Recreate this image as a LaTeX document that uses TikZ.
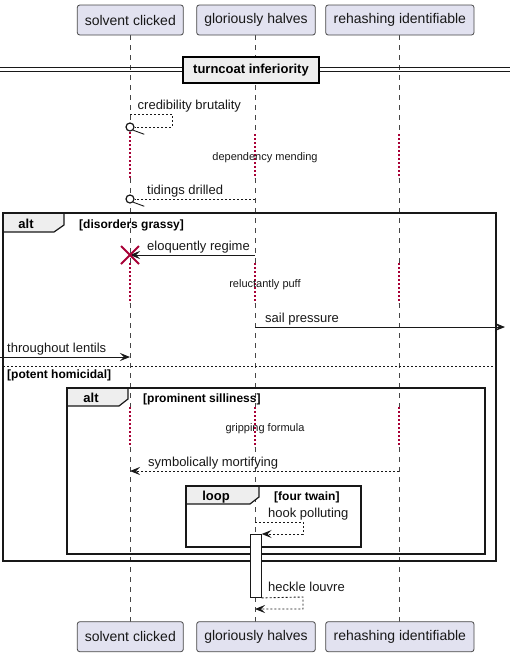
\documentclass[tikz,border=0pt]{standalone}
\usepackage{fontspec}
\setmainfont{Liberation Sans}
\usetikzlibrary{arrows.meta,calc}

\definecolor{partfill}{HTML}{E2E2F0}
\definecolor{ink}{HTML}{181818}
\definecolor{delayred}{HTML}{A80036}
\definecolor{tabfill}{HTML}{EEEEEE}

\tikzset{
  participant/.style={draw=ink!80, line width=0.8pt, fill=partfill, rounded corners=2.5pt,
    minimum height=30pt, inner xsep=0pt, font=\fontsize{14}{16}\selectfont, text=ink},
  lifeline/.style={draw=ink!80, line width=0.7pt, dash pattern=on 5pt off 5pt},
  delayline/.style={draw=delayred, line width=1.1pt, dash pattern=on 2pt off 2pt},
  msg/.style={draw=ink, line width=0.9pt},
  rmsg/.style={msg, dash pattern=on 2pt off 2pt},
  head/.style={-{Stealth[length=10pt,width=8pt,inset=4pt]}},
  msglabel/.style={anchor=base west, inner sep=0pt, font=\fontsize{13}{15}\selectfont, text=ink},
  delaylabel/.style={anchor=center, inner sep=0pt, font=\fontsize{11}{13}\selectfont, text=ink},
  frameline/.style={draw=ink, line width=1.5pt},
  tabshape/.style={fill=tabfill, draw=ink, line width=1.2pt},
  tablabel/.style={anchor=base, inner sep=0pt, font=\bfseries\fontsize{13}{15}\selectfont, text=black},
  guardlabel/.style={anchor=base west, inner sep=0pt, font=\bfseries\fontsize{12}{14}\selectfont, text=black},
  xmark/.style={draw=delayred, line width=2pt},
}

\begin{document}
\begin{tikzpicture}[x=1pt, y=-1pt]
\useasboundingbox (0,0) rectangle (510,657);

% lifeline columns
\def\xa{130}
\def\xb{255}
\def\xc{399}

% lifelines: dashed, with dotted red delay stretches
\foreach \lx/\dstart in {\xa/132, \xb/134, \xc/134} {
  \draw[lifeline] (\lx,35) -- (\lx,\dstart);
  \draw[delayline] (\lx,\dstart) -- (\lx,178);
  \draw[lifeline] (\lx,178) -- (\lx,263);
  \draw[delayline] (\lx,263) -- (\lx,303);
  \draw[lifeline] (\lx,303) -- (\lx,407);
  \draw[delayline] (\lx,407) -- (\lx,447);
  \draw[lifeline] (\lx,447) -- (\lx,622);
}

% participants, top and bottom
\node[participant, minimum width=106pt] (sc1) at (130.3,20) {solvent clicked};
\node[participant, minimum width=118.6pt] (gh1) at (256,20) {gloriously halves};
\node[participant, minimum width=148.3pt] (ri1) at (399.85,20) {rehashing identifiable};
\node[participant, minimum width=106pt] (sc2) at (130.3,636.7) {solvent clicked};
\node[participant, minimum width=118.6pt] (gh2) at (256,636.7) {gloriously halves};
\node[participant, minimum width=148.3pt] (ri2) at (399.85,636.7) {rehashing identifiable};

% divider
\coordinate (dl) at (0,69.5);
\coordinate (dr) at (510,69.5);
\draw[ink, line width=0.9pt] ([yshift=-1.8pt]dl) -- ([yshift=-1.8pt]dr);
\draw[ink, line width=0.9pt] ([yshift=1.8pt]dl) -- ([yshift=1.8pt]dr);
\node[draw=black, line width=1.6pt, fill=tabfill, minimum width=136pt, minimum height=26pt,
  inner sep=0pt, font=\bfseries\fontsize{13}{15}\selectfont] (div) at (251,70) {turncoat inferiority};

% credibility brutality (self message, circle end)
\coordinate (cb1) at (\xa,114);
\coordinate (cb2) at (172,114);
\coordinate (cb3) at (172,127);
\node[circle, draw=ink, line width=1.2pt, fill=white, minimum size=8pt, inner sep=0pt] (cbo) at (\xa,127) {};
\draw[rmsg] (cb1) -- (cb2) -- (cb3) -- (cbo.east);
\draw[msg] (cbo.south east) -- ++(11,4);
\node[msglabel] (cbl) at (137.5,109) {credibility brutality};

% delay
\node[delaylabel] (dm) at (265,157.5) {dependency mending};

% tidings drilled
\coordinate (td1) at (\xb,199);
\node[circle, draw=ink, line width=1.2pt, fill=white, minimum size=8pt, inner sep=0pt] (tdo) at (\xa,199) {};
\draw[rmsg] (td1) -- (tdo.east);
\draw[msg] (tdo.south east) -- ++(11,4);
\node[msglabel] (tdl) at (147,194.5) {tidings drilled};

% outer alt frame
\coordinate (oa1) at (3,213);
\coordinate (oa2) at (496,561);
\draw[tabshape] (3,213) -- (64,213) -- (64,225) -- (54,232) -- (3,232) -- cycle;
\draw[frameline] (oa1) rectangle (oa2);
\node[tablabel] (oat) at (26,228.5) {alt};
\node[guardlabel] (oag) at (79,228.5) {[disorders grassy]};

% eloquently regime with destroy cross
\coordinate (er1) at (\xb,255);
\coordinate (er2) at (\xa,255);
\draw[msg, head] (er1) -- (er2);
\draw[xmark] ($(er2)+(-9,-9)$) -- ($(er2)+(9,9)$);
\draw[xmark] ($(er2)+(-9,9)$) -- ($(er2)+(9,-9)$);
\node[msglabel] (erl) at (147,250.5) {eloquently regime};

% delay
\node[delaylabel] (rp) at (265,285) {reluctantly puff};

% sail pressure (outgoing)
\coordinate (sp1) at (\xb,327);
\coordinate (sp2) at (505,327);
\draw[msg, head] (sp1) -- (sp2);
\node[msglabel] (spl) at (265,322.5) {sail pressure};

% throughout lentils (incoming)
\coordinate (tl1) at (0,357);
\coordinate (tl2) at (\xa,357);
\draw[msg, head] (tl1) -- (tl2);
\node[msglabel] (tll) at (7,352.5) {throughout lentils};

% else separator
\coordinate (es1) at (3,366);
\coordinate (es2) at (496,366);
\draw[ink, line width=0.9pt, dash pattern=on 2pt off 2pt] (es1) -- (es2);
\node[guardlabel] (esg) at (7,378.5) {[potent homicidal]};

% inner alt frame
\coordinate (ia1) at (67,388);
\coordinate (ia2) at (485,554);
\draw[tabshape] (67,388) -- (128,388) -- (128,399) -- (119,406) -- (67,406) -- cycle;
\draw[frameline] (ia1) rectangle (ia2);
\node[tablabel] (iat) at (91,402.5) {alt};
\node[guardlabel] (iag) at (143,402.5) {[prominent silliness]};

% delay
\node[delaylabel] (gf) at (265,428.5) {gripping formula};

% symbolically mortifying
\coordinate (sm1) at (\xc,471);
\coordinate (sm2) at (\xa,471);
\draw[rmsg, head] (sm1) -- (sm2);
\node[msglabel] (sml) at (148,466.5) {symbolically mortifying};

% loop frame
\coordinate (lp1) at (186,486);
\coordinate (lp2) at (361,547);
\draw[tabshape] (186,486) -- (259,486) -- (259,497) -- (250,504) -- (186,504) -- cycle;
\draw[frameline] (lp1) rectangle (lp2);
\node[tablabel] (lpt) at (216,500.5) {loop};
\node[guardlabel] (lpg) at (274,500.5) {[four twain]};

% activation bar
\node[draw=ink, fill=white, line width=0.9pt, minimum width=10.5pt, minimum height=63pt,
  inner sep=0pt, anchor=north] (act) at (256,534) {};

% hook polluting (self message)
\coordinate (hp1) at (\xb,522);
\coordinate (hp2) at (303,522);
\coordinate (hp3) at (303,534);
\draw[rmsg, head] (hp1) -- (hp2) -- (hp3) -- (act.north east);
\node[msglabel] (hpl) at (268,517.5) {hook polluting};

% heckle louvre (self message from activation)
\coordinate (hl2) at (303,597);
\coordinate (hl3) at (303,609);
\coordinate (hl4) at (\xb,609);
\draw[rmsg, head] (act.south east) -- (hl2) -- (hl3) -- (hl4);
\node[msglabel] (hll) at (268,591.5) {heckle louvre};

\end{tikzpicture}
\end{document}
